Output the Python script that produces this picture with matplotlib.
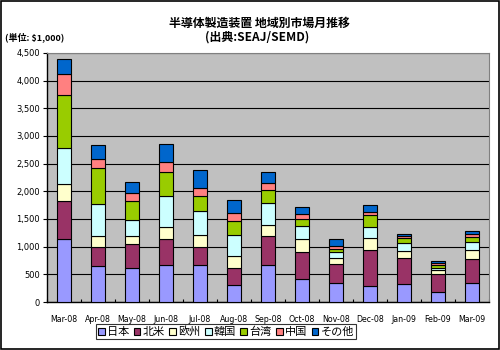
import matplotlib
matplotlib.use("Agg")
import matplotlib.pyplot as plt
from matplotlib.patches import Patch, Rectangle
from matplotlib.ticker import FuncFormatter, MultipleLocator
import numpy as np

plt.rcParams['font.family'] = ['Noto Sans CJK JP', 'DejaVu Sans']

months = ['Mar-08', 'Apr-08', 'May-08', 'Jun-08', 'Jul-08', 'Aug-08', 'Sep-08',
          'Oct-08', 'Nov-08', 'Dec-08', 'Jan-09', 'Feb-09', 'Mar-09']
regions = ['日本', '北米', '欧州', '韓国', '台湾', '中国', 'その他']

japan  = [1145, 655, 612, 673, 673, 309, 673, 424, 345, 296, 330, 180, 351]
na     = [680, 333, 443, 467, 315, 303, 515, 473, 336, 644, 470, 318, 425]
europe = [300, 200, 145, 211, 218, 224, 200, 243, 118, 224, 130, 75, 170]
korea  = [655, 576, 273, 564, 436, 370, 406, 229, 100, 200, 145, 45, 133]
taiwan = [950, 654, 351, 436, 273, 254, 230, 122, 51, 213, 75, 50, 98]
china  = [395, 164, 152, 182, 145, 152, 134, 103, 55, 51, 40, 35, 60]
others = [260, 260, 188, 322, 322, 224, 193, 115, 140, 118, 40, 40, 42]

series = [japan, na, europe, korea, taiwan, china, others]
colors = ['#9999FF', '#993366', '#FFFFCC', '#CCFFFF', '#99CC00', '#FF8080', '#0066CC']

fig = plt.figure(figsize=(5, 3.5), dpi=100)
fig.patch.set_facecolor('white')
ax = fig.add_axes([0.094, 0.137, 0.884, 0.712])
ax.set_facecolor('#C0C0C0')

x = np.arange(len(months))
bottom = np.zeros(len(months))
for vals, c in zip(series, colors):
    ax.bar(x, vals, width=0.43, bottom=bottom, color=c, edgecolor='black',
           linewidth=0.8, zorder=3)
    bottom += np.array(vals)

ax.set_xlim(-0.5, len(months) - 0.5)
ax.set_ylim(0, 4500)
ax.yaxis.set_major_locator(MultipleLocator(500))
ax.yaxis.set_major_formatter(FuncFormatter(lambda v, p: f'{int(v):,}'))
ax.grid(axis='y', color='black', linewidth=0.8, zorder=1)
ax.set_axisbelow(True)

ax.set_xticks(x)
ax.set_xticklabels(months, fontsize=5.7, family='DejaVu Sans')
ax.tick_params(axis='x', length=0, pad=9)
ax.set_xticks(np.arange(len(months) + 1) - 0.5, minor=True)
ax.tick_params(axis='x', which='minor', direction='in', length=2, width=0.8)
ax.tick_params(axis='y', labelsize=6, length=3, width=0.8, pad=2)
for lbl in ax.get_yticklabels():
    lbl.set_family('DejaVu Sans')

for s in ['top', 'right']:
    ax.spines[s].set_color('#808080')
    ax.spines[s].set_linewidth(0.8)
for s in ['left', 'bottom']:
    ax.spines[s].set_color('black')
    ax.spines[s].set_linewidth(1.0)

fig.text(0.518, 0.932, '半導体製造装置 地域別市場月推移', ha='center', va='center',
         fontsize=8.6, fontweight='bold')
fig.text(0.514, 0.893, '(出典:SEAJ/SEMD)', ha='center', va='center',
         fontsize=8.6, fontweight='bold')
fig.text(0.01, 0.893, '(単位: $1,000)', ha='left', va='center',
         fontsize=6.5, fontweight='bold')

handles = [Patch(facecolor=c, edgecolor='black', linewidth=0.8) for c in colors]
leg = fig.legend(handles, regions, loc='center', bbox_to_anchor=(0.452, 0.052),
                 ncol=7, fontsize=8, frameon=True, fancybox=False,
                 handlelength=0.6, handleheight=0.6, handletextpad=0.2,
                 columnspacing=0.4, borderpad=0.2, borderaxespad=0)
leg.get_frame().set_edgecolor('black')
leg.get_frame().set_linewidth(0.8)

fig.add_artist(Rectangle((0.002, 0.003), 0.995, 0.994, transform=fig.transFigure,
                         fill=False, edgecolor='black', linewidth=1.2))

fig.savefig('out.png', dpi=100)
